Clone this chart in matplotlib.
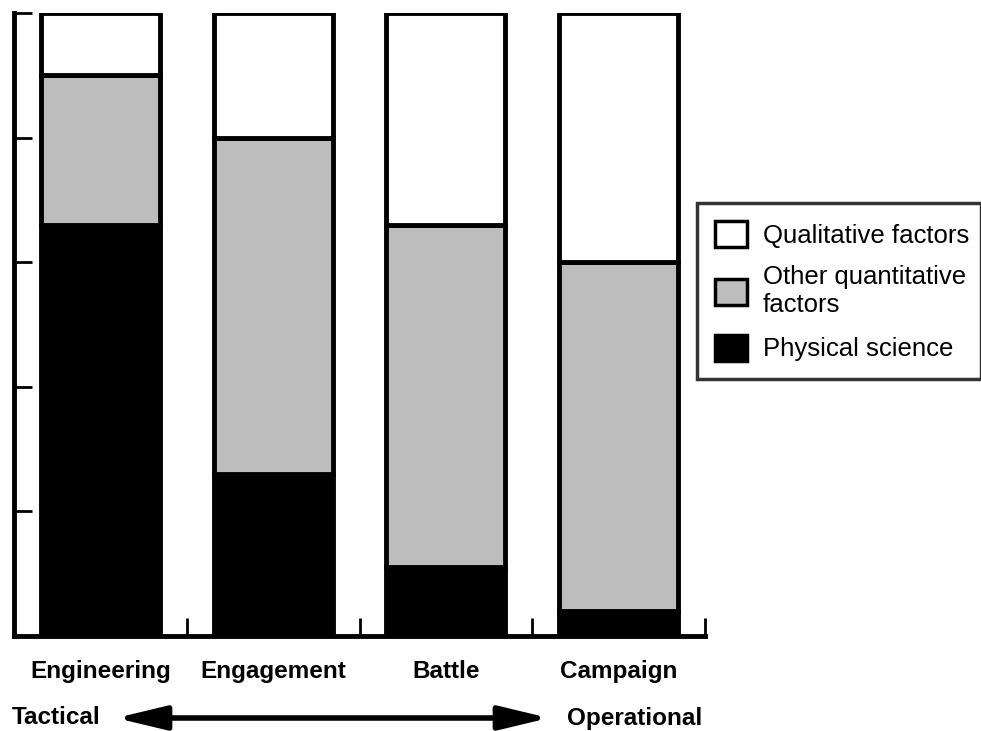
import numpy as np
import matplotlib
matplotlib.use("Agg")
import matplotlib.pyplot as plt
from matplotlib.patches import Patch

plt.rcParams['font.family'] = ['Liberation Sans', 'DejaVu Sans']

# data
categories = ["Engineering", "Engagement", "Battle", "Campaign"]
physical = [66, 26, 11, 4]
other_quant = [24, 54, 55, 56]
qualitative = [10, 20, 34, 40]
series_labels = ["Qualitative factors", "Other quantitative\nfactors", "Physical science"]
gray = "#bdbdbd"

fig = plt.figure(figsize=(9.81, 7.31), dpi=100)
ax = fig.add_axes([14/981, 1-636/731, 691/981, 623/731])

x = np.arange(len(categories))
w = 0.69
b1 = np.array(physical)
b2 = b1 + np.array(other_quant)
ax.bar(x, physical, w, color="black", edgecolor="black", linewidth=3.5)
ax.bar(x, other_quant, w, bottom=b1, color=gray, edgecolor="black", linewidth=3.5)
ax.bar(x, qualitative, w, bottom=b2, color="white", edgecolor="black", linewidth=3.5)

ax.set_xlim(-0.5, 3.5)
ax.set_ylim(0, 100)
for s in ["top", "right"]:
    ax.spines[s].set_visible(False)
for s in ["left", "bottom"]:
    ax.spines[s].set_linewidth(3.5)

ax.set_yticks([0, 20, 40, 60, 80, 100])
ax.set_yticklabels([])
ax.set_xticks([0.5, 1.5, 2.5, 3.5])
ax.set_xticklabels([])
ax.tick_params(axis="both", which="major", direction="in", length=13, width=2)
ax.set_xticks(x, minor=True)
ax.set_xticklabels(categories, minor=True, fontsize=17.5, fontweight="bold")
ax.tick_params(axis="x", which="minor", length=0, pad=17)

# legend
handles = [Patch(facecolor="white", edgecolor="black", linewidth=2.5),
           Patch(facecolor=gray, edgecolor="black", linewidth=2.5),
           Patch(facecolor="black", edgecolor="black", linewidth=2.5)]
leg = fig.legend(handles, series_labels, loc="upper left",
                 bbox_to_anchor=(697/981, 1-203/731-0.01, 284/981, 0.01),
                 mode="expand", fontsize=18.5, frameon=True, fancybox=False,
                 edgecolor="black", handlelength=1.25, handleheight=1.2,
                 handletextpad=0.6, borderpad=0.7, labelspacing=0.68,
                 borderaxespad=0)
leg.get_frame().set_linewidth(2.5)

# arrow below the categories
fig.text(12/981, 1-718/731, "Tactical", fontsize=17.5, fontweight="bold",
         ha="left", va="center")
fig.text(567/981, 1-718/731, "Operational", fontsize=17.5, fontweight="bold",
         ha="left", va="center")
ax.annotate("", xy=(549, 731-718), xytext=(116, 731-718),
            xycoords="figure pixels", textcoords="figure pixels",
            arrowprops=dict(arrowstyle="<|-|>,head_length=1.5,head_width=0.36",
                            mutation_scale=20, lw=4, color="black",
                            shrinkA=0, shrinkB=0))

fig.savefig("out.png", dpi=100)
